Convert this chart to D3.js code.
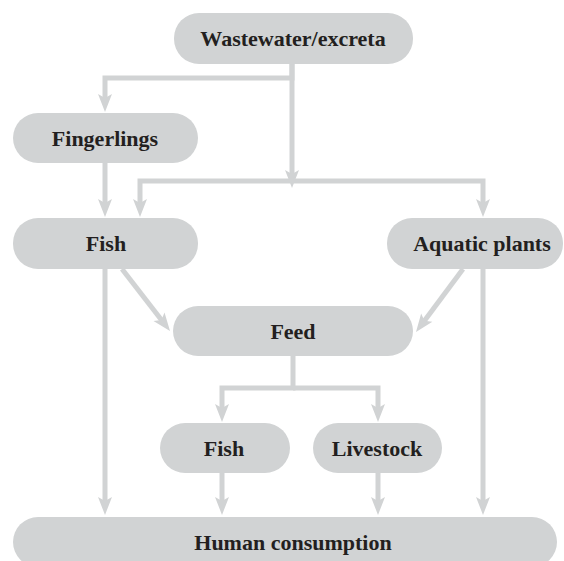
<!DOCTYPE html>
<html>
<head>
<meta charset="utf-8">
<script src="https://cdn.jsdelivr.net/npm/d3@7"></script>
<style>
    html, body { margin: 0; padding: 0; background: #fff; }
    svg { display: block; }
    .node-label { font-family: "Liberation Serif", "Times New Roman", serif; font-weight: bold; font-size: 22px; fill: #231f20; }
</style>
</head>
<body>
<svg id="chart" width="564" height="561"></svg>
<script>
// nodes of the flow diagram
const nodeIds = ['waste', 'fingerlings', 'fish', 'aquatic', 'feed', 'fish2', 'livestock', 'human']
const nodeLabels = ['Wastewater/excreta', 'Fingerlings', 'Fish', 'Aquatic plants', 'Feed', 'Fish', 'Livestock', 'Human consumption']

// arrows: source -> target
const linkSources = ['waste', 'waste', 'waste', 'fingerlings', 'fish', 'aquatic', 'fish', 'aquatic', 'feed', 'feed', 'fish2', 'livestock']
const linkTargets = ['fingerlings', 'fish', 'aquatic', 'fish', 'feed', 'feed', 'human', 'human', 'fish2', 'livestock', 'human', 'human']

const BOX_FILL = '#d1d3d4'
const LINE = '#d1d3d4'

const svg = d3.select('#chart'),
    width = +svg.attr('width'),
    height = +svg.attr('height')

// identity-ish scales in diagram units
const x = d3.scaleLinear().domain([0, 564]).range([0, width])
const y = d3.scaleLinear().domain([0, 561]).range([0, height])

// layout of the boxes (x0, x1, y0, y1, text x)
const layout = {
    waste:       {x0: 174, x1: 413, y0: 13,  y1: 64,  tx: 293},
    fingerlings: {x0: 13,  x1: 198, y0: 113, y1: 163, tx: 105},
    fish:        {x0: 13,  x1: 198, y0: 218, y1: 269, tx: 106},
    aquatic:     {x0: 387, x1: 563, y0: 218, y1: 269, tx: 482},
    feed:        {x0: 173, x1: 413, y0: 306, y1: 356, tx: 293},
    fish2:       {x0: 160, x1: 290, y0: 423, y1: 473, tx: 224},
    livestock:   {x0: 313, x1: 442, y0: 423, y1: 473, tx: 377},
    human:       {x0: 13,  x1: 557, y0: 517, y1: 567, tx: 293}
}

// routing of each arrow as polyline points (last point = arrow tip)
const routes = {
    'waste>fingerlings': [[292, 64], [292, 78], [105, 78], [105, 112]],
    'waste>fish':        [[292, 181], [140, 181], [140, 217]],
    'waste>aquatic':     [[292, 181], [483, 181], [483, 217]],
    'fingerlings>fish':  [[105, 163], [105, 217]],
    'fish>feed':         [[122, 269], [170, 331]],
    'aquatic>feed':      [[463, 269], [416, 332]],
    'fish>human':        [[105, 269], [105, 515]],
    'aquatic>human':     [[483, 269], [483, 515]],
    'feed>fish2':        [[293, 356], [293, 388], [222, 388], [222, 422]],
    'feed>livestock':    [[293, 388], [378, 388], [378, 422]],
    'fish2>human':       [[222, 473], [222, 515]],
    'livestock>human':   [[378, 473], [378, 515]]
}
// trunk from wastewater down to the cross bar, with its own arrow head
const trunk = [[292, 64], [292, 188]]

const links = linkSources.map((s, i) => ({source: s, target: linkTargets[i]}))

const linkGroup = svg.append('g')
const nodeGroup = svg.append('g')

const ARROW_LEN = 18, ARROW_HALF = 7, NOTCH = 4

function drawArrow(pts) {
    const p = pts.map(d => [x(d[0]), y(d[1])])
    const tip = p[p.length - 1], prev = p[p.length - 2]
    const dx = tip[0] - prev[0], dy = tip[1] - prev[1]
    const len = Math.hypot(dx, dy)
    const ux = dx / len, uy = dy / len
    // shorten the shaft so it hides under the head
    const shaft = p.slice(0, -1).concat([[tip[0] - ux * 12, tip[1] - uy * 12]])

    linkGroup.append('path')
        .attr('d', d3.line()(shaft))
        .attr('fill', 'none')
        .attr('stroke', LINE)
        .attr('stroke-width', 5)
        .attr('stroke-linejoin', 'miter')

    const bx = tip[0] - ux * ARROW_LEN, by = tip[1] - uy * ARROW_LEN
    const head = [
        tip,
        [bx - uy * ARROW_HALF, by + ux * ARROW_HALF],
        [bx + ux * NOTCH, by + uy * NOTCH],
        [bx + uy * ARROW_HALF, by - ux * ARROW_HALF]
    ]
    linkGroup.append('path')
        .attr('d', d3.line()(head) + 'Z')
        .attr('fill', LINE)
}

links.forEach(l => drawArrow(routes[l.source + '>' + l.target]))
drawArrow(trunk)

const nodes = nodeIds.map((id, i) => ({id: id, label: nodeLabels[i], ...layout[id]}))

const node = nodeGroup.selectAll('.node')
    .data(nodes)
    .enter().append('g')
    .attr('class', 'node')

node.append('rect')
    .attr('x', d => x(d.x0))
    .attr('y', d => y(d.y0))
    .attr('width', d => x(d.x1) - x(d.x0))
    .attr('height', d => y(d.y1) - y(d.y0))
    .attr('rx', 25)
    .attr('ry', 25)
    .attr('fill', BOX_FILL)

node.append('text')
    .attr('class', 'node-label')
    .attr('x', d => x(d.tx))
    .attr('y', d => y((d.id === 'human' ? 542 : (d.y0 + d.y1) / 2) + 7.5))
    .attr('text-anchor', 'middle')
    .text(d => d.label)
</script>
</body>
</html>
